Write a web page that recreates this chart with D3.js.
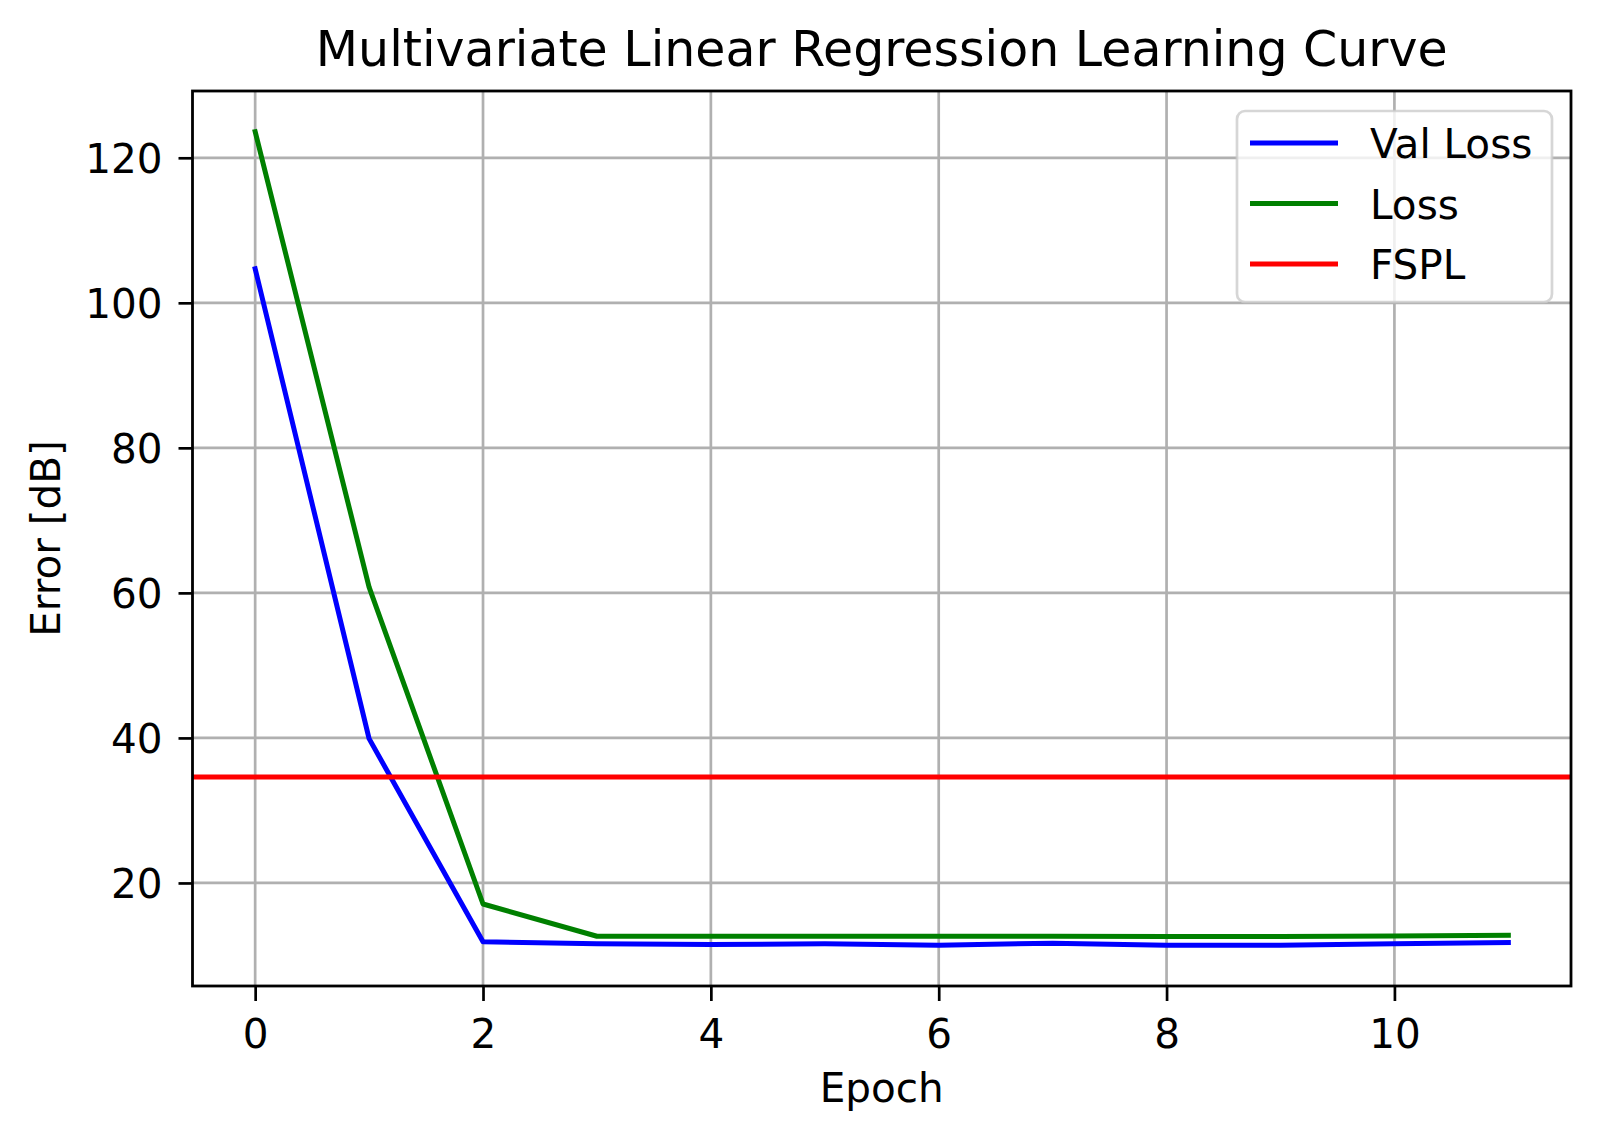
<!DOCTYPE html>
<html>
<head>
<meta charset="utf-8">
<script src="https://cdn.jsdelivr.net/npm/d3@7"></script>
<style>
  body { margin: 0; background: #fff; }
  svg { font-family: "DejaVu Sans", sans-serif; }
</style>
</head>
<body>
<div id="chart"></div>
<script>
const epochs = [0, 1, 2, 3, 4, 5, 6, 7, 8, 9, 10, 11];
const valLoss = [104.7, 39.9, 11.9, 11.6, 11.5, 11.6, 11.4, 11.7, 11.4, 11.4, 11.6, 11.8];
const loss = [123.6, 60.8, 17.1, 12.65, 12.65, 12.65, 12.65, 12.65, 12.6, 12.6, 12.7, 12.8];
const fspl = 34.6;
const xTicks = [0, 2, 4, 6, 8, 10];
const yTicks = [20, 40, 60, 80, 100, 120];
const seriesNames = ["Val Loss", "Loss", "FSPL"];
const seriesColors = ["blue", "green", "red"];

const W = 1600, H = 1140;
const margin = { top: 91, right: 29, bottom: 154, left: 192.5 },
  width = W - margin.left - margin.right,
  height = H - margin.top - margin.bottom;

const svg = d3
  .select("#chart")
  .append("svg")
  .attr("width", W)
  .attr("height", H);

svg.append("rect").attr("width", W).attr("height", H).attr("fill", "#fff");

const g = svg
  .append("g")
  .attr("transform", `translate(${margin.left},${margin.top})`);

// matplotlib style 5% padding
const xMin = d3.min(epochs), xMax = d3.max(epochs);
const xPad = (xMax - xMin) * 0.05;
const x = d3.scaleLinear().domain([xMin - xPad, xMax + xPad]).range([0, width]);

const allY = valLoss.concat(loss, [fspl]);
const yMin = d3.min(allY), yMax = d3.max(allY);
const yPad = (yMax - yMin) * 0.05;
const y = d3.scaleLinear().domain([yMin - yPad, yMax + yPad]).range([height, 0]);

// grid
g.append("g")
  .selectAll("line")
  .data(xTicks)
  .enter()
  .append("line")
  .attr("x1", (d) => x(d))
  .attr("x2", (d) => x(d))
  .attr("y1", 0)
  .attr("y2", height)
  .attr("stroke", "#b0b0b0")
  .attr("stroke-width", 2.7);

g.append("g")
  .selectAll("line")
  .data(yTicks)
  .enter()
  .append("line")
  .attr("x1", 0)
  .attr("x2", width)
  .attr("y1", (d) => y(d))
  .attr("y2", (d) => y(d))
  .attr("stroke", "#b0b0b0")
  .attr("stroke-width", 2.7);

// series
const plot = g.append("g");
plot.append("clipPath").attr("id", "clip")
  .append("rect").attr("width", width).attr("height", height);

const line = d3
  .line()
  .x((d, i) => x(epochs[i]))
  .y((d) => y(d));

[valLoss, loss].forEach((vals, i) => {
  plot
    .append("path")
    .datum(vals)
    .attr("d", line)
    .attr("fill", "none")
    .attr("stroke", seriesColors[i])
    .attr("stroke-width", 5)
    .attr("stroke-linejoin", "round")
    .attr("stroke-linecap", "square")
    .attr("clip-path", "url(#clip)");
});

plot
  .append("line")
  .attr("x1", 0)
  .attr("x2", width)
  .attr("y1", y(fspl))
  .attr("y2", y(fspl))
  .attr("stroke", seriesColors[2])
  .attr("stroke-width", 5);

// axes
const xAxis = g
  .append("g")
  .attr("transform", `translate(0,${height})`)
  .call(d3.axisBottom(x).tickValues(xTicks).tickSize(15).tickPadding(16).tickSizeOuter(0));

const yAxis = g
  .append("g")
  .call(d3.axisLeft(y).tickValues(yTicks).tickSize(14).tickPadding(16).tickSizeOuter(0));

[xAxis, yAxis].forEach((a) => {
  a.select(".domain").remove();
  a.selectAll(".tick line").attr("stroke", "#000").attr("stroke-width", 2.7);
  a.selectAll(".tick text")
    .attr("fill", "#000")
    .style("font-size", "40.5px")
    .style("font-family", "DejaVu Sans, sans-serif");
});
xAxis.selectAll(".tick text").attr("dy", "0.76em");
yAxis.selectAll(".tick text").attr("dy", "0.36em");

// frame
g.append("rect")
  .attr("width", width)
  .attr("height", height)
  .attr("fill", "none")
  .attr("stroke", "#000")
  .attr("stroke-width", 2.8);

// labels
svg
  .append("text")
  .attr("x", margin.left + width / 2)
  .attr("y", 66)
  .attr("text-anchor", "middle")
  .attr("font-size", "49px")
  .attr("fill", "#000")
  .text("Multivariate Linear Regression Learning Curve");

svg
  .append("text")
  .attr("x", margin.left + width / 2)
  .attr("y", 1102)
  .attr("text-anchor", "middle")
  .attr("font-size", "40.5px")
  .attr("fill", "#000")
  .text("Epoch");

svg
  .append("text")
  .attr("transform", `translate(60,${margin.top + height / 2}) rotate(-90)`)
  .attr("text-anchor", "middle")
  .attr("font-size", "40.5px")
  .attr("fill", "#000")
  .text("Error [dB]");

// legend
const legRight = margin.left + width - 19;
const legTop = margin.top + 20;
const legW = 315, legH = 191;
const legend = svg.append("g").attr("transform", `translate(${legRight - legW},${legTop})`);

legend
  .append("rect")
  .attr("width", legW)
  .attr("height", legH)
  .attr("rx", 8)
  .attr("fill", "#fff")
  .attr("fill-opacity", 0.8)
  .attr("stroke", "#cccccc")
  .attr("stroke-opacity", 0.8)
  .attr("stroke-width", 2.7);

seriesNames.forEach((name, i) => {
  const rowY = 32 + i * 60.5;
  legend
    .append("line")
    .attr("x1", 13)
    .attr("x2", 101)
    .attr("y1", rowY)
    .attr("y2", rowY)
    .attr("stroke", seriesColors[i])
    .attr("stroke-width", 5);
  legend
    .append("text")
    .attr("x", 133)
    .attr("y", rowY + 15)
    .attr("font-size", "40.5px")
    .attr("fill", "#000")
    .text(name);
});
</script>
</body>
</html>
